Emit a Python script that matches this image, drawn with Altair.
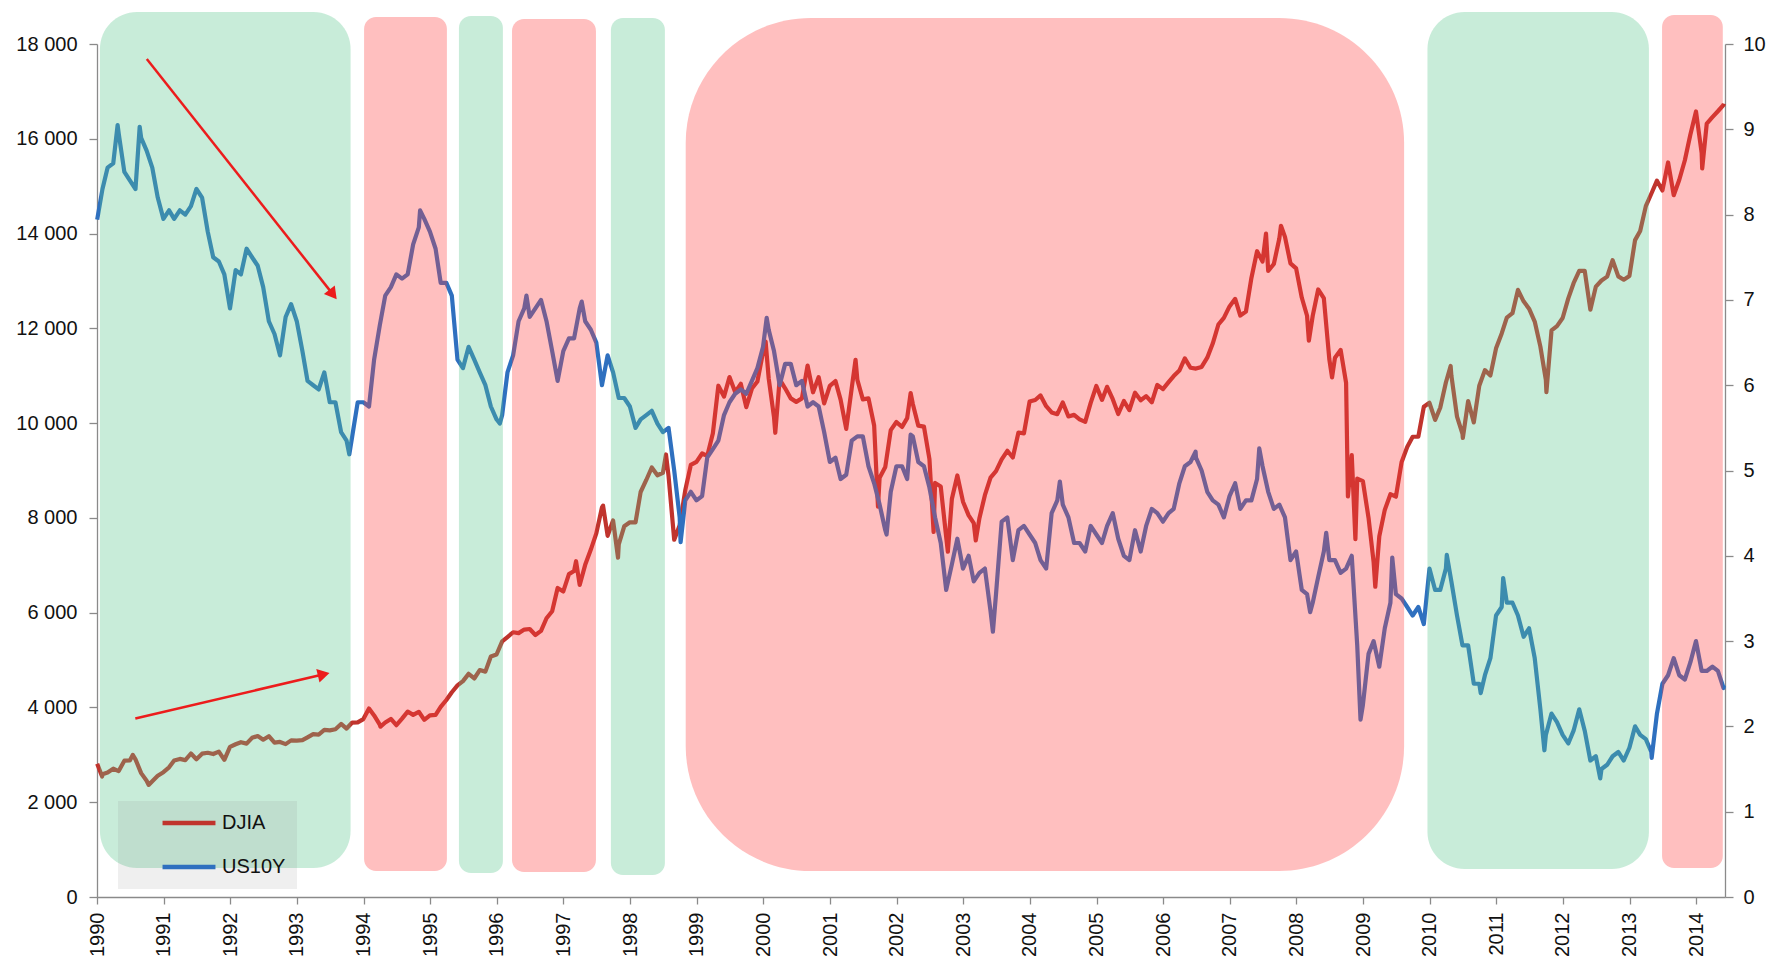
import altair as alt
import pandas as pd

# ---------------- data ----------------
djia_monthly = [
    2591, 2627, 2707, 2657, 2877, 2881, 2905, 2614, 2453, 2442, 2560, 2634,   # 1990
    2736, 2882, 2914, 2888, 3028, 2907, 3025, 3044, 3017, 3069, 2895, 3169,   # 1991
    3224, 3267, 3236, 3359, 3397, 3319, 3394, 3257, 3272, 3226, 3305, 3301,   # 1992
    3310, 3370, 3435, 3428, 3527, 3516, 3540, 3651, 3555, 3681, 3684, 3754,   # 1993
    3978, 3832, 3636, 3682, 3758, 3625, 3765, 3913, 3843, 3908, 3739, 3834,   # 1994
    3844, 4011, 4158, 4321, 4465, 4556, 4709, 4611, 4789, 4756, 5075, 5117,   # 1995
    5395, 5486, 5587, 5569, 5643, 5655, 5529, 5616, 5882, 6029, 6522, 6448,   # 1996
    6813, 6878, 6584, 7009, 7331, 7673, 8223, 7622, 7945, 7442, 7823, 7908,   # 1997
    7907, 8546, 8800, 9063, 8900, 8952, 8883, 7539, 7843, 8592, 9117, 9181,   # 1998
    9359, 9307, 9786, 10789, 10560, 10971, 10655, 10829, 10337, 10730, 10878, 11497,  # 1999
    10941, 10128, 10922, 10734, 10522, 10448, 10522, 11215, 10651, 10971, 10415, 10788,  # 2000
    10887, 10495, 9879, 10735, 10912, 10502, 10523, 9950, 8848, 9075, 9852, 10022,  # 2001
    9920, 10106, 10404, 9946, 9925, 9243, 8737, 8664, 7592, 8397, 8896, 8342,   # 2002
    8054, 7891, 7992, 8480, 8850, 8985, 9234, 9416, 9275, 9801, 9782, 10454,   # 2003
    10488, 10584, 10358, 10226, 10188, 10435, 10140, 10174, 10080, 10027, 10428, 10783,  # 2004
    10490, 10766, 10504, 10193, 10467, 10275, 10641, 10482, 10569, 10440, 10806, 10718,  # 2005
    10865, 10993, 11109, 11367, 11168, 11150, 11186, 11381, 11679, 12081, 12222, 12463,  # 2006
    12622, 12269, 12354, 13063, 13628, 13409, 13212, 13358, 13896, 13930, 13372, 13265,  # 2007
    12650, 12266, 12263, 12820, 12638, 11350, 11378, 11544, 10851, 9325, 8829, 8776,  # 2008
    8001, 7063, 7609, 8168, 8500, 8447, 9172, 9496, 9712, 9713, 10345, 10428,   # 2009
    10067, 10325, 10857, 11009, 10137, 9774, 10466, 10015, 10788, 11118, 11006, 11578,  # 2010
    11892, 12226, 12320, 12811, 12570, 12414, 12143, 11614, 10913, 11955, 12046, 12218,  # 2011
    12633, 12952, 13212, 13214, 12393, 12880, 13009, 13091, 13437, 13096, 13026, 13104,  # 2012
    13861, 14054, 14579, 14840, 15116, 14910, 15500, 14810, 15130, 15546, 16086, 16577,  # 2013
    15699, 16322, 16458, 16581, 16717,                                            # 2014
]
djia_extra_dates = [
    "1990-01-02", "1990-01-29", "1990-07-16", "1990-10-11", "1994-04-04",
    "1997-03-11", "1997-08-06", "1997-10-27", "1998-07-17", "2000-01-14",
    "2000-03-07", "2001-05-21", "2001-09-21", "2002-03-19", "2002-07-23",
    "2002-10-09", "2003-03-11", "2007-07-19", "2007-10-09", "2008-03-10",
    "2008-07-15", "2008-10-10", "2008-11-20", "2009-03-09", "2010-04-26",
    "2010-07-02", "2011-10-03", "2014-02-03", "2014-06-02",
]
djia_extra_values = [
    2810, 2543, 2999, 2365, 3594,
    7085, 8259, 7161, 9338, 11723,
    9796, 11337, 8236, 10635, 7702,
    7286, 7524, 14000, 14164, 11740,
    10963, 8451, 7552, 6547, 11205,
    9686, 10655, 15373, 16743,
]

us10y_monthly = [
    8.30, 8.55, 8.60, 8.95, 8.50, 8.40, 8.30, 8.90, 8.75, 8.55, 8.20, 7.95,   # 1990
    8.05, 7.95, 8.05, 8.00, 8.10, 8.30, 8.20, 7.80, 7.50, 7.45, 7.30, 6.90,   # 1991
    7.35, 7.30, 7.60, 7.50, 7.40, 7.15, 6.75, 6.60, 6.35, 6.80, 6.95, 6.75,   # 1992
    6.40, 6.05, 6.00, 5.95, 6.15, 5.80, 5.80, 5.45, 5.35, 5.40, 5.80, 5.80,   # 1993
    5.75, 6.30, 6.70, 7.05, 7.15, 7.30, 7.25, 7.30, 7.65, 7.85, 7.95, 7.80,   # 1994
    7.60, 7.20, 7.20, 7.05, 6.30, 6.20, 6.45, 6.30, 6.15, 6.00, 5.75, 5.60,   # 1995
    5.65, 6.15, 6.35, 6.75, 6.90, 6.80, 6.90, 7.00, 6.75, 6.40, 6.05, 6.40,   # 1996
    6.55, 6.55, 6.90, 6.75, 6.65, 6.50, 6.00, 6.35, 6.15, 5.85, 5.85, 5.75,   # 1997
    5.50, 5.60, 5.65, 5.70, 5.55, 5.45, 5.50, 5.00, 4.45, 4.65, 4.75, 4.65,   # 1998
    4.70, 5.15, 5.25, 5.35, 5.65, 5.80, 5.90, 5.95, 5.90, 6.05, 6.20, 6.45,   # 1999
    6.65, 6.40, 6.00, 6.25, 6.25, 6.00, 6.05, 5.75, 5.80, 5.75, 5.45, 5.10,   # 2000
    5.15, 4.90, 4.95, 5.35, 5.40, 5.40, 5.05, 4.85, 4.60, 4.30, 4.75, 5.05,   # 2001
    5.05, 4.90, 5.40, 5.10, 5.05, 4.80, 4.45, 4.15, 3.60, 3.90, 4.20, 3.85,   # 2002
    4.00, 3.70, 3.80, 3.85, 3.35, 3.55, 4.40, 4.45, 3.95, 4.30, 4.35, 4.25,   # 2003
    4.15, 3.95, 3.85, 4.50, 4.65, 4.60, 4.45, 4.15, 4.15, 4.05, 4.35, 4.25,   # 2004
    4.15, 4.35, 4.50, 4.20, 4.00, 3.95, 4.30, 4.05, 4.35, 4.55, 4.50, 4.40,   # 2005
    4.50, 4.55, 4.85, 5.05, 5.10, 5.15, 5.00, 4.75, 4.65, 4.60, 4.45, 4.70,   # 2006
    4.85, 4.55, 4.65, 4.65, 4.90, 5.05, 4.75, 4.55, 4.60, 4.45, 3.95, 4.05,   # 2007
    3.60, 3.55, 3.45, 3.75, 4.05, 3.95, 3.95, 3.80, 3.85, 4.00, 2.95, 2.25,   # 2008
    2.85, 3.00, 2.70, 3.15, 3.45, 3.55, 3.50, 3.40, 3.30, 3.40, 3.20, 3.85,   # 2009
    3.60, 3.60, 3.85, 3.70, 3.30, 2.95, 2.95, 2.50, 2.50, 2.60, 2.80, 3.30,   # 2010
    3.40, 3.45, 3.45, 3.30, 3.05, 3.15, 2.80, 2.20, 1.90, 2.15, 2.05, 1.90,   # 2011
    1.80, 1.95, 2.20, 1.95, 1.60, 1.65, 1.50, 1.55, 1.65, 1.70, 1.60, 1.75,   # 2012
    2.00, 1.90, 1.85, 1.70, 2.15, 2.50, 2.60, 2.80, 2.60, 2.55, 2.75, 3.00,   # 2013
    2.65, 2.65, 2.70, 2.65, 2.45,                                             # 2014
]
us10y_extra_dates = [
    "1990-01-02", "1990-04-24", "1990-08-23", "1993-10-15", "1994-11-07",
    "1996-01-18", "1996-06-12", "1997-04-11", "1998-10-05", "2000-01-20",
    "2001-11-07", "2002-03-19", "2003-06-13", "2004-06-14", "2006-06-28",
    "2007-06-12", "2008-03-17", "2008-06-13", "2008-12-18", "2009-06-10",
    "2010-04-05", "2010-10-08", "2011-02-08", "2011-09-22", "2012-07-24",
    "2013-05-02", "2013-12-31", "2014-06-02",
]
us10y_extra_values = [
    7.94, 9.05, 9.03, 5.19, 8.05,
    5.55, 7.05, 6.98, 4.16, 6.79,
    4.25, 5.42, 3.11, 4.87, 5.22,
    5.26, 3.34, 4.27, 2.08, 3.98,
    4.01, 2.39, 3.74, 1.72, 1.39,
    1.63, 3.03, 2.48,
]

series_names = ["DJIA", "US10Y"]
djia_ticks = [0, 2000, 4000, 6000, 8000, 10000, 12000, 14000, 16000, 18000]
us10y_ticks = [0, 1, 2, 3, 4, 5, 6, 7, 8, 9, 10]

# shaded regimes (green = falling yields, red = rising yields), in DJIA units
zone_start = ["1990-01-17", "1994-01-04", "1995-06-08", "1996-03-25", "1997-09-18",
              "1998-11-02", "2009-12-20", "2013-06-28"]
zone_end = ["1993-10-22", "1995-04-03", "1996-02-04", "1997-06-28", "1998-07-11",
            "2009-08-14", "2013-04-17", "2014-05-27"]
zone_top = [18675, 18570, 18590, 18527, 18548, 18548, 18675, 18612]
zone_bottom = [612, 549, 506, 528, 464, 549, 591, 612]
zone_kind = ["green", "red", "green", "red", "green", "red", "green", "red"]
zone_shape = ["mid", "small", "small", "small", "small", "big", "mid", "small"]

# trend arrows
arrow_start = ["1990-10-01", "1990-07-30"]
arrow_end = ["1993-07-11", "1993-05-17"]
arrow_from = [17683, 3767]
arrow_to = [12748, 4690]
arrow_angle = [142, 76.5]

# ---------------- frames ----------------
def month_ends(n):
    return [(pd.Timestamp(1990 + i // 12, i % 12 + 1, 1) + pd.offsets.MonthEnd(0)) for i in range(n)]

def series_frame(monthly, extra_dates, extra_values, name):
    d = pd.DataFrame({"date": month_ends(len(monthly)), "value": monthly})
    e = pd.DataFrame({"date": pd.to_datetime(extra_dates), "value": extra_values})
    f = pd.concat([d, e]).sort_values("date").drop_duplicates("date")
    f["date"] = f["date"].dt.strftime("%Y-%m-%d")
    f["series"] = name
    return f

djia_df = series_frame(djia_monthly, djia_extra_dates, djia_extra_values, "DJIA")
us_df = series_frame(us10y_monthly, us10y_extra_dates, us10y_extra_values, "US10Y")

zones = pd.DataFrame({"start": zone_start, "end": zone_end, "top": zone_top,
                      "bottom": zone_bottom, "kind": zone_kind, "shape": zone_shape})
arrows = pd.DataFrame({"start": arrow_start, "end": arrow_end, "y1": arrow_from,
                       "y2": arrow_to, "angle": arrow_angle})

# ---------------- chart ----------------
FONT = "Liberation Sans"
NBSP = "\u00a0"
x_scale = alt.Scale(domain=[alt.DateTime(year=1990, month=1, date=1),
                            alt.DateTime(year=2014, month=6, date=8)], nice=False)
x_axis = alt.Axis(title=None, format="%Y", labelAngle=270,
                  tickCount={"interval": "year", "step": 1}, grid=False,
                  labelOverlap=False, labelFlush=False, labelPadding=8, tickSize=7)
djia_scale = alt.Scale(domain=[0, 18000], nice=False, zero=True)
us_scale = alt.Scale(domain=[0, 10], nice=False, zero=True)

color = alt.Color("series:N",
                  scale=alt.Scale(domain=series_names, range=["#c0342d", "#2f70bf"]),
                  legend=alt.Legend(title=None, orient="none", legendX=21, legendY=757,
                                    padding=11, fillColor="rgba(129,129,129,0.13)",
                                    symbolType="stroke", symbolStrokeWidth=4.5,
                                    symbolSize=2800, symbolOffset=31, clipHeight=22,
                                    labelFontSize=20, labelFont=FONT, labelColor="#111",
                                    labelExpr="datum.label + '" + NBSP * 7 + "'",
                                    labelLimit=300,
                                    labelOffset=4, rowPadding=22))

djia_line = alt.Chart(djia_df).mark_line(strokeWidth=4.2, strokeJoin="round").encode(
    x=alt.X("date:T", scale=x_scale, axis=x_axis),
    y=alt.Y("value:Q", scale=djia_scale,
            axis=alt.Axis(title=None, orient="left", values=djia_ticks, grid=False,
                          labelExpr="replace(format(datum.value, ','), ',', ' ')",
                          tickSize=8, labelPadding=12)),
    color=color,
)
us_line = alt.Chart(us_df).mark_line(strokeWidth=4.2, strokeJoin="round").encode(
    x=alt.X("date:T", scale=x_scale, axis=x_axis),
    y=alt.Y("value:Q", scale=us_scale,
            axis=alt.Axis(title=None, orient="right", values=us10y_ticks, format="d",
                          grid=False, tickSize=8, labelPadding=10)),
    color=color,
)

def zone_layer(kind, shape, fill, radius):
    sub = zones[(zones["kind"] == kind) & (zones["shape"] == shape)]
    return alt.Chart(sub).mark_rect(color=fill, opacity=0.33, cornerRadius=radius).encode(
        x=alt.X("start:T", scale=x_scale, axis=x_axis),
        x2="end:T",
        y=alt.Y("top:Q", scale=djia_scale, axis=None),
        y2="bottom:Q",
    )

GREEN = "#58c58c"
RED = "#ff3c3c"
zone_layers = [
    zone_layer("green", "mid", GREEN, 37),
    zone_layer("green", "small", GREEN, 12),
    zone_layer("red", "small", RED, 12),
    zone_layer("red", "big", RED, 125),
]

arrow_shaft = alt.Chart(arrows).mark_rule(color="#ec1c1c", strokeWidth=2.5).encode(
    x=alt.X("start:T", scale=x_scale, axis=x_axis),
    x2="end:T",
    y=alt.Y("y1:Q", scale=djia_scale, axis=None),
    y2="y2:Q",
)
arrow_head = alt.Chart(arrows).mark_point(shape="triangle", filled=True, size=190,
                                          color="#ec1c1c", opacity=1).encode(
    x=alt.X("end:T", scale=x_scale, axis=x_axis),
    y=alt.Y("y2:Q", scale=djia_scale, axis=None),
    angle=alt.Angle("angle:Q", scale=None),
)

chart = alt.layer(djia_line, us_line, *zone_layers, arrow_shaft, arrow_head).resolve_scale(
    y="independent"
).properties(
    width=1628, height=853,
    autosize=alt.AutoSizeParams(type="none"),
    padding={"left": 97, "top": 44, "right": 46, "bottom": 62},
    background="white",
).configure(font=FONT).configure_view(stroke=None).configure_axis(
    labelFont=FONT, labelFontSize=20, labelColor="#111",
    domainColor="#8a8a8a", tickColor="#8a8a8a", domainWidth=1.3, tickWidth=1.3, grid=False,
)

chart.save("out.html", embed_options={"renderer": "svg", "actions": False})
